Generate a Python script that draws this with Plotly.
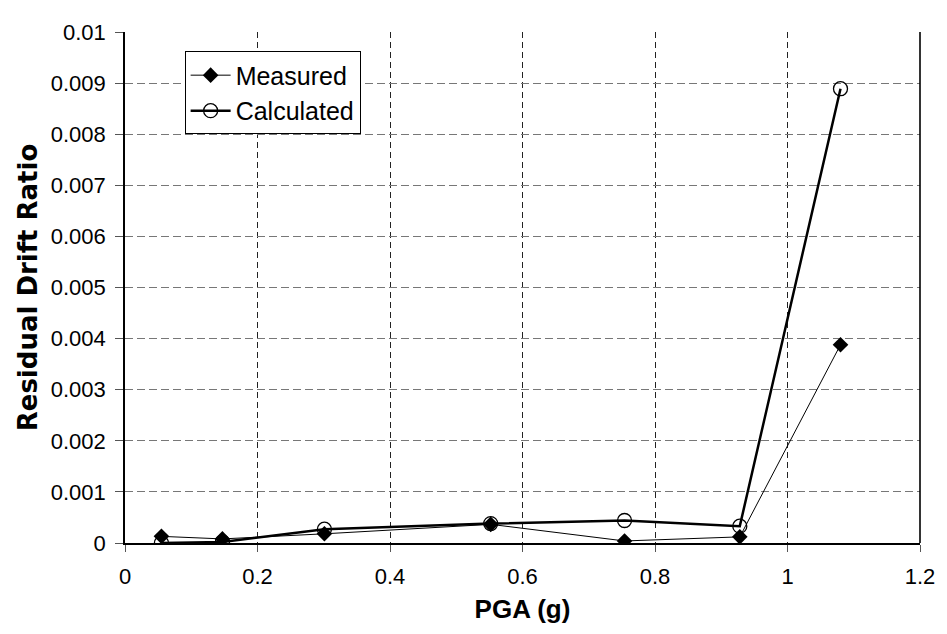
import plotly.graph_objects as go

pga = [0.055, 0.147, 0.301, 0.552, 0.754, 0.928, 1.08]
measured = [0.00013, 0.00008, 0.00018, 0.000365, 0.00004, 0.00012, 0.00388]
calculated = [0.0, 0.00002, 0.00027, 0.00038, 0.00044, 0.00033, 0.00889]

x_ticks = [0, 0.2, 0.4, 0.6, 0.8, 1.0, 1.2]
x_ticktext = ["0", "0.2", "0.4", "0.6", "0.8", "1", "1.2"]
y_ticks = [0, 0.001, 0.002, 0.003, 0.004, 0.005, 0.006, 0.007, 0.008, 0.009, 0.01]
y_ticktext = ["0", "0.001", "0.002", "0.003", "0.004", "0.005", "0.006",
              "0.007", "0.008", "0.009", "0.01"]

FONT = "Arial, Liberation Sans, sans-serif"
WIDE = "DejaVu Sans, Arial, sans-serif"

fig = go.Figure()
fig.add_trace(go.Scatter(
    x=pga, y=measured, name="Measured", mode="lines+markers",
    line=dict(color="black", width=1),
    marker=dict(symbol="diamond", size=12, color="black"),
))
fig.add_trace(go.Scatter(
    x=pga, y=calculated, name="Calculated", mode="lines+markers",
    line=dict(color="black", width=2.5),
    marker=dict(symbol="circle-open", size=14, color="black", line=dict(width=1.3)),
))

fig.update_layout(
    width=939, height=626,
    margin=dict(l=117, r=21, t=14, b=91),
    paper_bgcolor="white", plot_bgcolor="white",
    font=dict(family=FONT, size=22, color="black"),
    showlegend=True,
    legend=dict(
        x=0.075, y=0.962, xanchor="left", yanchor="top",
        bgcolor="white", bordercolor="black", borderwidth=1,
        font=dict(family=FONT, size=25, color="black"),
        itemwidth=40, tracegroupgap=0,
    ),
    xaxis=dict(
        range=[0, 1.2], tickvals=x_ticks, ticktext=x_ticktext,
        showgrid=True, gridcolor="#222", griddash="6px,4px", gridwidth=1,
        showline=True, linecolor="black", linewidth=1.6,
        ticks="outside", ticklen=7, tickcolor="#555",
        ticklabelstandoff=6,
        zeroline=False,
        title=dict(text="<b>PGA (g)</b>", font=dict(family=FONT, size=26), standoff=12),
        tickfont=dict(family=FONT, size=22),
    ),
    yaxis=dict(
        range=[0, 0.01], tickvals=y_ticks, ticktext=y_ticktext,
        showgrid=True, gridcolor="#777", griddash="8px,4px", gridwidth=1,
        showline=True, linecolor="black", linewidth=1.6,
        ticks="outside", ticklen=8, tickcolor="#555",
        ticklabelstandoff=5,
        zeroline=False,
        title=dict(text="<b>Residual Drift Ratio</b>", font=dict(family=WIDE, size=26), standoff=6),
        tickfont=dict(family=FONT, size=22),
    ),
)

# right border of plot area (solid)
fig.add_shape(type="line", xref="paper", yref="paper", x0=1, x1=1, y0=0, y1=1,
              line=dict(color="black", width=1.6))

fig.write_html("out.html")
